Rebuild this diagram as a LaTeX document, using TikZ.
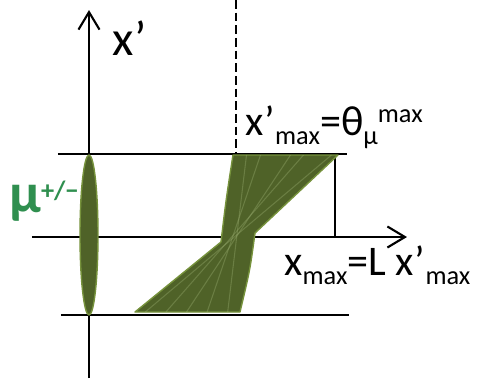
\documentclass[tikz,border=0pt]{standalone}
\usepackage{fontspec}
\setmainfont{Carlito}
\usetikzlibrary{arrows.meta}
\definecolor{mugreen}{HTML}{2F8F4F}
\definecolor{beamdark}{HTML}{4F6228}
\definecolor{beamedge}{HTML}{76923C}
\newcommand\lowtxt[1]{\raisebox{-5.5pt}{\fontsize{15}{15}\selectfont #1}}
\newcommand\hightxt[1]{\raisebox{7pt}{\fontsize{15}{15}\selectfont #1}}

\begin{document}
\begin{tikzpicture}[
  x=0.02cm, y=-0.02cm,
  line/.style={line width=1.2pt, black},
  axisarr/.style={line, -{Straight Barb[length=10pt, width=12pt, line width=1.2pt]}},
  beam/.style={fill=beamdark, draw=beamedge, line width=0.8pt, line join=round},
  ray/.style={draw=beamedge!70!white, line width=0.6pt, opacity=0.35},
  lbl/.style={inner sep=0pt, anchor=base west, font=\fontsize{24}{26}\selectfont},
]
\useasboundingbox (0,0) rectangle (478,379);

% axes and guide lines
\coordinate (ybot) at (89,378);
\coordinate (ytop) at (89,10);
\coordinate (xleft) at (32,237);
\coordinate (xright) at (407,237);
\draw[line] (58,154) -- (347,154);
\draw[line] (61,315) -- (349,315);
\draw[axisarr] (ybot) -- (ytop);
\draw[axisarr] (xleft) -- (xright);
\draw[line, line width=1.4pt, dash pattern=on 5pt off 2.2pt] (236,0) -- (236,154);
\draw[line] (335,154) -- (335,237);

% beam at the target and after the drift
\draw[beam] (89,235) ellipse [x radius=9, y radius=80];
\draw[beam] (233,155) -- (338,155) -- (255,233)
  .. controls (250,270) .. (240,312) -- (135,312) -- (221,242)
  .. controls (226,200) .. cycle;
\foreach \t/\d in {0.1/4,0.3/-3,0.5/5,0.7/-4,0.9/3} {
  \draw[ray] (135+103*\t,312) -- (338-105*\t+\d,155);
}

\node[lbl, font=\fontsize{28}{30}\selectfont] (xprime) at (112,55) {x’};
\node[lbl] (thetamax) at (245,135) {x’\lowtxt{max}=θ\lowtxt{μ}\hightxt{max}};
\node[lbl] (xmax) at (284,275) {x\lowtxt{max}=L x’\lowtxt{max}};
\node[lbl, text=mugreen, font=\fontsize{32}{34}\selectfont\bfseries] (muon) at (9,212)
  {μ\hightxt{+/−}};
\end{tikzpicture}
\end{document}
